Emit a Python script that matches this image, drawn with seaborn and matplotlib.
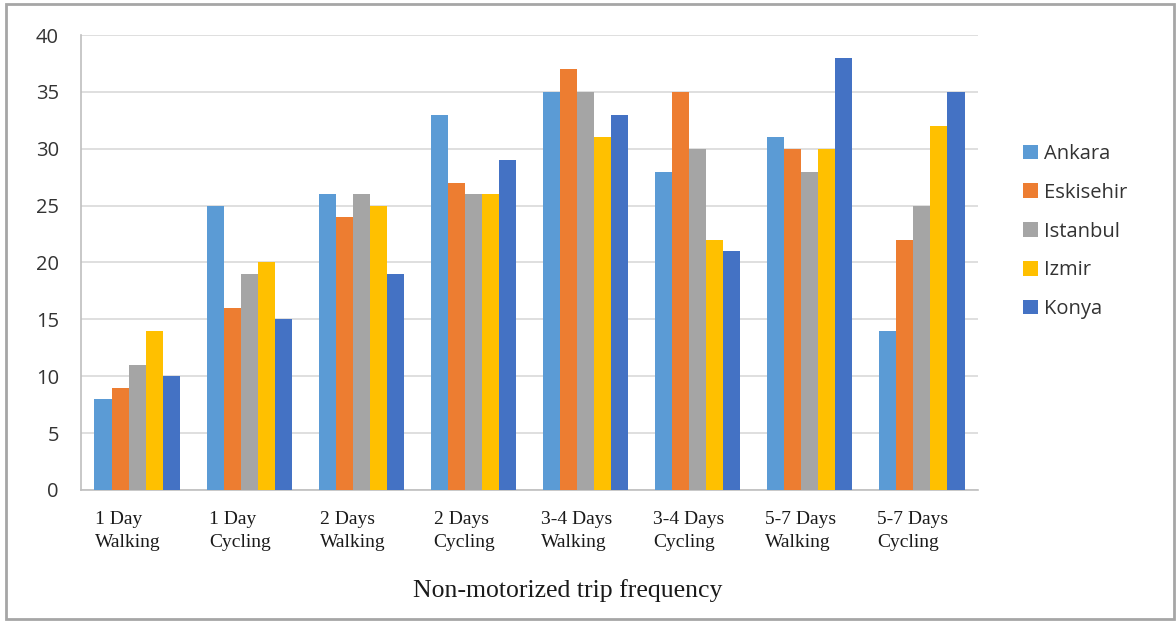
import numpy as np
import pandas as pd
import matplotlib
matplotlib.use('Agg')
import matplotlib.pyplot as plt
import seaborn as sns
from matplotlib.patches import Rectangle

# dados
categorias = ['1 Day\nWalking', '1 Day\nCycling', '2 Days\nWalking', '2 Days\nCycling',
              '3-4 Days\nWalking', '3-4 Days\nCycling', '5-7 Days\nWalking', '5-7 Days\nCycling']
cidades = ['Ankara', 'Eskisehir', 'Istanbul', 'Izmir', 'Konya']
ankara = [8, 25, 26, 33, 35, 28, 31, 14]
eskisehir = [9, 16, 24, 27, 37, 35, 30, 22]
istanbul = [11, 19, 26, 26, 35, 30, 28, 25]
izmir = [14, 20, 25, 26, 31, 22, 30, 32]
konya = [10, 15, 19, 29, 33, 21, 38, 35]
cores = ['#5B9BD5', '#ED7D31', '#A5A5A5', '#FFC000', '#4472C4']

valores = [ankara, eskisehir, istanbul, izmir, konya]
linhas = []
for cidade, serie in zip(cidades, valores):
    for cat, v in zip(categorias, serie):
        linhas.append({'categoria': cat, 'cidade': cidade, 'valor': v})
df = pd.DataFrame(linhas)

sns.set_style('white')
fig = plt.figure(figsize=(11.76, 6.21), dpi=100)
ax = fig.add_axes([0.0689, 0.211, 0.7627, 0.7326])

sns.barplot(data=df, x='categoria', y='valor', hue='cidade', order=categorias,
            hue_order=cidades, palette=cores, width=0.76, gap=0, saturation=1,
            edgecolor='none', linewidth=0, ax=ax, zorder=3)

ax.set_ylim(0, 40)
ax.set_xlim(-0.5, 7.5)
ax.set_yticks(range(0, 41, 5))
ax.yaxis.grid(True, color='#D9D9D9', linewidth=1.2, zorder=0)
ax.set_axisbelow(True)
for lado in ['top', 'right']:
    ax.spines[lado].set_visible(False)
for lado in ['left', 'bottom']:
    ax.spines[lado].set_color('#BFBFBF')
    ax.spines[lado].set_linewidth(1.2)

# ticks entre os grupos; rotulos um pouco a esquerda do centro
n = len(categorias)
ax.set_xticks(np.arange(n + 1) - 0.5)
ax.set_xticklabels([])
ax.set_xticks(np.arange(n) - 0.08, minor=True)
ax.set_xticklabels(categorias, minor=True, family='Liberation Serif', fontsize=14,
                   color='#1a1a1a', multialignment='left', linespacing=1.45)
ax.tick_params(axis='x', which='major', direction='out', length=7, color='#BFBFBF', width=1.2)
ax.tick_params(axis='x', which='minor', length=0, pad=15)
ax.tick_params(axis='y', direction='out', length=6, color='#BFBFBF', width=1.2,
               labelsize=14.5, labelcolor='#333333', pad=10)
for t in ax.get_yticklabels():
    t.set_family('Open Sans')

ax.set_xlabel('Non-motorized trip frequency', family='Liberation Serif', fontsize=18.5,
              color='#1a1a1a')
ax.xaxis.set_label_coords(0.543, -0.195)
ax.set_ylabel('')

leg = ax.legend(loc='upper left', bbox_to_anchor=(1.03, 0.80), frameon=False,
                prop={'family': 'Open Sans', 'size': 14.5}, labelspacing=0.93,
                handlelength=0.75, handleheight=0.75, handletextpad=0.3)
for t in leg.get_texts():
    t.set_color('#333333')

# moldura cinza em volta da figura
fig.patches.append(Rectangle((0.005, 0.004), 0.993, 0.99, transform=fig.transFigure,
                             fill=False, edgecolor='#A6A6A6', linewidth=2))

fig.savefig('out.png', dpi=100)
